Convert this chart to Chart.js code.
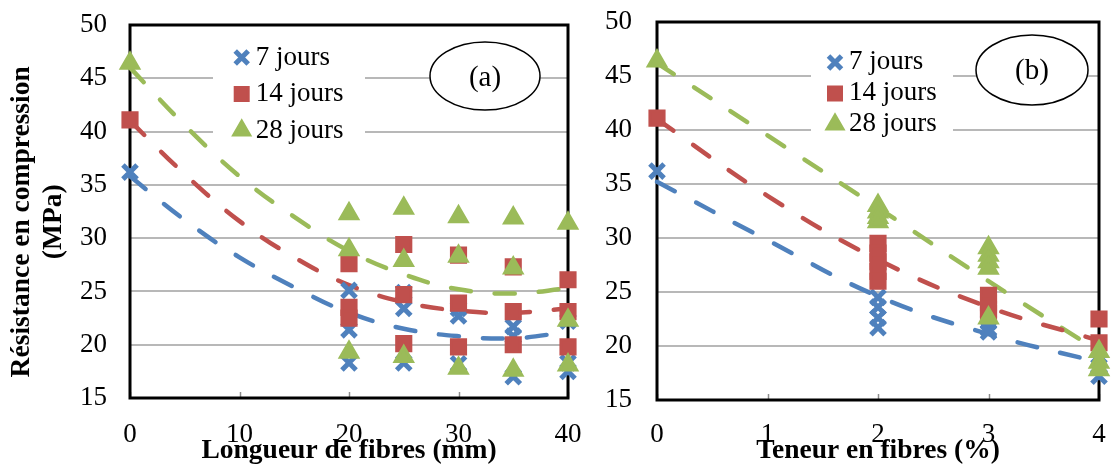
<!DOCTYPE html>
<html>
<head>
<meta charset="utf-8">
<script src="https://cdn.jsdelivr.net/npm/chart.js@4/dist/chart.umd.min.js"></script>
<style>
html,body{margin:0;padding:0;background:#fff;overflow:hidden;}
#wrap{position:relative;width:1114px;height:467px;background:#fff;}
#c1{position:absolute;left:0;top:0;}
#c2{position:absolute;left:590px;top:0;}
</style>
</head>
<body>
<div id="wrap">
<canvas id="c1" width="590" height="467"></canvas>
<canvas id="c2" width="524" height="467"></canvas>
</div>
<script>
// ---------- DATA ----------
const seriesLabels = ['7 jours', '14 jours', '28 jours'];
const yTicksMin = 15, yTicksMax = 50, yStep = 5;

// (a) Longueur de fibres (mm)
const lengthCategories = [0, 20, 25, 30, 35, 40];
const lengthJ7  = [[36.2], [25.1, 21.4, 18.3], [24.9, 23.4, 18.3], [23.4, 22.7, 18.2], [21.7, 20.8, 17.0], [22.2, 18.3, 17.5]];
const lengthJ14 = [[41.1], [27.6, 23.5, 22.5], [29.4, 24.7, 20.1], [28.4, 23.9, 19.8], [27.3, 23.1, 20.0], [26.1, 23.1, 19.8]];
const lengthJ28 = [[46.4], [32.3, 28.9, 19.3], [32.8, 27.9, 18.9], [32.0, 28.3, 17.8], [31.9, 27.2, 17.6], [31.4, 22.3, 18.1]];
const lengthTrendX   = [0, 5, 10, 15, 20, 25, 30, 35, 40];
const lengthTrendJ7  = [35.8, 31.7, 28.2, 25.4, 23.0, 21.5, 20.8, 20.6, 21.2];
const lengthTrendJ14 = [41.0, 36.0, 31.6, 28.2, 25.6, 24.0, 23.2, 23.0, 23.4];
const lengthTrendJ28 = [46.0, 40.6, 35.8, 32.0, 28.8, 26.6, 25.2, 24.8, 25.3];

// (b) Teneur en fibres (%)
const contentCategories = [0, 2, 3, 4];
const contentJ7  = [[36.2], [24.5, 23.6, 22.6, 21.7], [22.2, 21.6, 21.3], [18.1, 17.2]];
const contentJ14 = [[41.1], [29.5, 28.6, 27.8, 26.9, 26.0], [24.7, 24.0, 23.4, 23.0], [22.5, 20.3]];
const contentJ28 = [[46.4], [33.0, 32.4, 31.9, 31.5], [29.1, 28.4, 27.8, 27.2, 22.6], [19.5, 18.5, 17.8]];
const contentTrendX   = [0, 1, 2, 3, 4];
const contentTrendJ7  = [35.2, 29.8, 24.6, 21.1, 18.5];
const contentTrendJ14 = [41.0, 33.9, 28.0, 23.6, 20.5];
const contentTrendJ28 = [46.2, 39.5, 32.8, 26.0, 19.5];

// ---------- STYLE ----------
const SERIF = '"Liberation Serif", "Times New Roman", serif';
const BLUE = '#4F81BD', RED = '#C0504D', GREEN = '#9BBB59';
const NB = '\u00a0\u00a0\u00a0';
const CLEAR = 'rgba(0,0,0,0)';

function pointsFrom(cats, groups) {
  const out = [];
  cats.forEach((c, i) => groups[i].forEach(v => out.push({x: c, y: v})));
  return out;
}
function lineFrom(xs, ys) { return xs.map((x, i) => ({x: x, y: ys[i]})); }

const framePlugin = {
  id: 'frame',
  beforeDatasetsDraw(chart, args, opts) {
    const ctx = chart.ctx, a = chart.chartArea, e = opts.ellipse, sx = chart.scales.x;
    ctx.save();
    // small inner tick marks on the bottom axis
    ctx.strokeStyle = '#8c8c8c'; ctx.lineWidth = 1.5;
    sx.ticks.forEach(t => {
      const px = Math.round(sx.getPixelForValue(t.value)) + 0.5;
      ctx.beginPath(); ctx.moveTo(px, a.bottom); ctx.lineTo(px, a.bottom - 6); ctx.stroke();
    });
    // label ellipse
    ctx.beginPath();
    ctx.ellipse(e.cx, e.cy, e.rx, e.ry, 0, 0, Math.PI * 2);
    ctx.fillStyle = '#fff'; ctx.fill();
    ctx.lineWidth = 1.5; ctx.strokeStyle = '#000'; ctx.stroke();
    ctx.fillStyle = '#000';
    ctx.font = '29px ' + SERIF;
    ctx.textAlign = 'center'; ctx.textBaseline = 'middle';
    ctx.fillText(e.text, e.cx, e.ty);
    // plot frame
    ctx.lineWidth = 3; ctx.strokeStyle = '#000';
    ctx.strokeRect(a.left, a.top, a.right - a.left, a.bottom - a.top);
    ctx.restore();
  }
};

const legendPlace = {
  id: 'legendPlace',
  afterLayout(chart, args, opts) {
    const lg = chart.legend; if (!lg) return;
    const w = lg.width, h = lg.height;
    lg.left = opts.x; lg.top = opts.y; lg.right = opts.x + w; lg.bottom = opts.y + h;
    if (!lg._bgPatched) {
      const orig = lg.draw;
      lg.draw = function () {
        const o = chart.options.plugins.legendPlace, c = chart.ctx;
        c.save(); c.fillStyle = '#fff'; c.fillRect(o.bx, o.by, o.bw, o.bh); c.restore();
        if (typeof this._draw === 'function') { if (this.options.display) this._draw(); }
        else return orig.apply(this, arguments);
      };
      lg._bgPatched = true;
    }
  }
};

function makeDatasets(cats, g7, g14, g28, tx, t7, t14, t28) {
  const pt = (label, data, style, color, bw, order) => ({
    label, data, showLine: false, pointStyle: style, pointRadius: 10, pointBorderWidth: bw,
    borderColor: color, backgroundColor: color, pointBackgroundColor: color, pointBorderColor: color,
    order, clip: false
  });
  const ln = (label, data, color) => ({
    label, data, showLine: true, borderColor: color, backgroundColor: color, borderWidth: 4.5,
    borderDash: [20, 24], borderCapStyle: 'round', pointRadius: 0, tension: 0.4, fill: false,
    order: 3, clip: false
  });
  return [
    pt(seriesLabels[0], pointsFrom(cats, g7), 'crossRot', BLUE, 5, 2),
    pt(seriesLabels[1], pointsFrom(cats, g14), 'rect', RED, 3, 1),
    pt(seriesLabels[2], pointsFrom(cats, g28), 'triangle', GREEN, 3, 0),
    ln('tendance 7', lineFrom(tx, t7), BLUE),
    ln('tendance 14', lineFrom(tx, t14), RED),
    ln('tendance 28', lineFrom(tx, t28), GREEN)
  ];
}

function makeOptions(cfg) {
  return {
    responsive: false, animation: false, events: [],
    layout: {padding: {left: 0, top: cfg.top, right: cfg.right, bottom: 0}},
    scales: {
      x: {
        type: 'linear', min: cfg.xmin, max: cfg.xmax,
        ticks: {stepSize: cfg.step, font: {family: SERIF, size: 27}, color: '#000', padding: 0, maxRotation: 0, autoSkip: false},
        grid: {display: true, drawOnChartArea: false, drawTicks: true, tickLength: cfg.xTl, color: CLEAR, tickColor: CLEAR},
        border: {display: false},
        title: {display: true, text: cfg.xTitle, color: '#000',
                font: {family: SERIF, size: 27.5, weight: 'bold', lineHeight: 1.2}, padding: {top: 0, bottom: 0}},
        afterFit(s) { s.height = cfg.xh; }
      },
      y: {
        type: 'linear', min: yTicksMin, max: yTicksMax,
        ticks: {stepSize: yStep, font: {family: SERIF, size: 27}, color: '#000', padding: 0},
        grid: {color: '#b8b8b8', lineWidth: 2, drawTicks: true, tickLength: cfg.yTl, tickColor: CLEAR},
        border: {display: false},
        title: cfg.yTitle ? {display: true, text: cfg.yTitle, color: '#000',
                font: {family: SERIF, size: 27.5, weight: 'bold', lineHeight: 1.16}, padding: {top: 6, bottom: 0}}
              : {display: false},
        afterFit(s) { s.width = cfg.yw; }
      }
    },
    plugins: {
      tooltip: {enabled: false},
      legend: {
        position: 'chartArea', align: 'start',
        labels: {
          usePointStyle: true, boxWidth: 1, boxHeight: 13, padding: cfg.legPad,
          font: {family: SERIF, size: 27}, color: '#000',
          filter: (it) => it.datasetIndex < 3,
          sort: (a, b) => a.datasetIndex - b.datasetIndex
        }
      },
      legendPlace: cfg.legend,
      frame: {ellipse: cfg.ellipse}
    }
  };
}

new Chart(document.getElementById('c1'), {
  type: 'scatter',
  data: {datasets: makeDatasets(lengthCategories, lengthJ7, lengthJ14, lengthJ28, lengthTrendX, lengthTrendJ7, lengthTrendJ14, lengthTrendJ28)},
  options: makeOptions({
    top: 25, right: 22, xmin: 0, xmax: 40, step: 10, xh: 69, yw: 130, yTl: 23, xTl: 21,
    xTitle: 'Longueur de fibres (mm)', yTitle: ['Résistance en compression' + NB, '(MPa)' + NB],
    legPad: 9.5,
    legend: {x: 231.7, y: 34.5, bx: 213, by: 40, bw: 152, bh: 108},
    ellipse: {cx: 485, cy: 76, rx: 55, ry: 34, text: '(a)', ty: 78}
  }),
  plugins: [framePlugin, legendPlace]
});

new Chart(document.getElementById('c2'), {
  type: 'scatter',
  data: {datasets: makeDatasets(contentCategories, contentJ7, contentJ14, contentJ28, contentTrendX, contentTrendJ7, contentTrendJ14, contentTrendJ28)},
  options: makeOptions({
    top: 22, right: 9, xmin: 0, xmax: 4, step: 1, xh: 67, yw: 67, yTl: 25, xTl: 19,
    xTitle: 'Teneur en fibres (%)', yTitle: null,
    legPad: 4,
    legend: {x: 240.5, y: 44.9, bx: 221, by: 40, bw: 142, bh: 104},
    ellipse: {cx: 442, cy: 70, rx: 56, ry: 35, text: '(b)', ty: 71}
  }),
  plugins: [framePlugin, legendPlace]
});
</script>
</body>
</html>
